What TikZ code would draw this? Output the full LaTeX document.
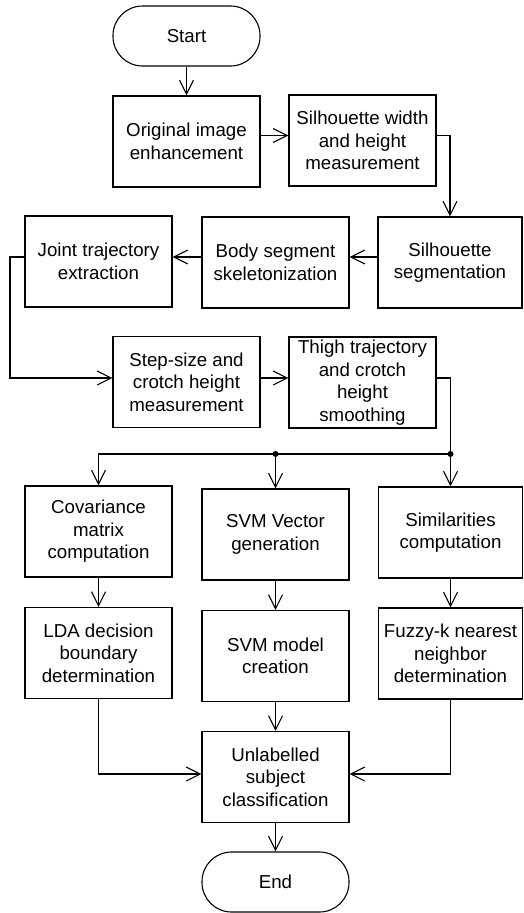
\documentclass[tikz,border=0pt]{standalone}
\usepackage{fontspec}
\setmainfont{Liberation Sans}
\usetikzlibrary{arrows.meta}
\begin{document}
\begin{tikzpicture}[x=1pt,y=-1pt,
  box/.style={draw,line width=1.1pt,minimum width=147pt,minimum height=91pt,inner sep=0pt,align=center,font=\fontsize{18.7}{22.5}\selectfont},
  term/.style={draw,line width=1.1pt,minimum width=147pt,minimum height=60pt,rounded corners=29.5pt,inner sep=0pt,align=center,font=\fontsize{18.7}{22.5}\selectfont},
  arr/.style={line width=1.1pt,-{Straight Barb[length=14pt,width=14pt,line width=1.1pt]}},
  ln/.style={line width=1.1pt},
  dot/.style={circle,fill=black,inner sep=0pt,minimum size=6pt}]
\useasboundingbox (0,0) rectangle (523,913);
\node[term] (start) at (186.5,36) {Start};
\node[box] (orig) at (186.5,141.5) {Original image\\enhancement};
\node[box] (silw) at (362.5,140.5) {Silhouette width\\and height\\measurement};
\node[box,minimum width=144pt] (silseg) at (450,262.5) {Silhouette\\segmentation};
\node[box] (body) at (275.5,262.5) {Body segment\\skeletonization};
\node[box] (joint) at (98.5,261.5) {Joint trajectory\\extraction};
\node[box] (step) at (186.5,382) {Step-size and\\crotch height\\measurement};
\node[box] (thigh) at (362.5,382.5) {Thigh trajectory\\and crotch\\height\\smoothing};
\node[box] (cov) at (98.5,531.5) {Covariance\\matrix\\computation};
\node[box] (svmv) at (275.5,534.5) {SVM Vector\\generation};
\node[box,minimum width=144pt] (sim) at (450.5,532.5) {Similarities\\computation};
\node[box] (lda) at (98.5,653) {LDA decision\\boundary\\determination};
\node[box] (svmm) at (275.5,656) {SVM model\\creation};
\node[box,minimum width=144pt] (fuzzy) at (450.5,653.5) {Fuzzy-k nearest\\neighbor\\determination};
\node[box] (unl) at (275.5,777) {Unlabelled\\subject\\classification};
\node[term] (end) at (275.5,882) {End};
\coordinate (c1) at (10,257);
\coordinate (j2) at (450.5,454);
\coordinate (j1) at (275.5,454);
\draw[arr] (start) -- (orig);
\draw[arr] ([yshift=6pt]orig.east) -- ([yshift=6pt]orig.east -| silw.west);
\draw[arr] ([yshift=5pt]silw.east) -| (silseg.north);
\draw[arr] ([yshift=5.5pt]silseg.west) -- ([yshift=5.5pt]silseg.west -| body.east);
\draw[arr] ([yshift=5.5pt]body.west) -- ([yshift=5.5pt]body.west -| joint.east);
\draw[arr] ([yshift=4.5pt]joint.west) -| (c1) |- ([yshift=4pt]step.west);
\draw[arr] ([yshift=4pt]step.east) -- ([yshift=4pt]step.east -| thigh.west);
\draw[ln] ([yshift=4.5pt]thigh.east) -| (j2);
\draw[arr] (j2) -- (sim.north);
\draw[arr] (j1) -- (svmv.north);
\draw[arr] (j2) -| (cov.north);
\node[dot] at (j1) {};
\node[dot] at (j2) {};
\draw[arr] (cov) -- (lda);
\draw[arr] (svmv) -- (svmm);
\draw[arr] (sim) -- (fuzzy);
\draw[arr] (svmm) -- (unl);
\draw[arr] (lda.south) |- ([yshift=3pt]unl.west);
\draw[arr] (fuzzy.south) |- ([yshift=3pt]unl.east);
\draw[arr] (unl) -- (end);
\end{tikzpicture}
\end{document}
